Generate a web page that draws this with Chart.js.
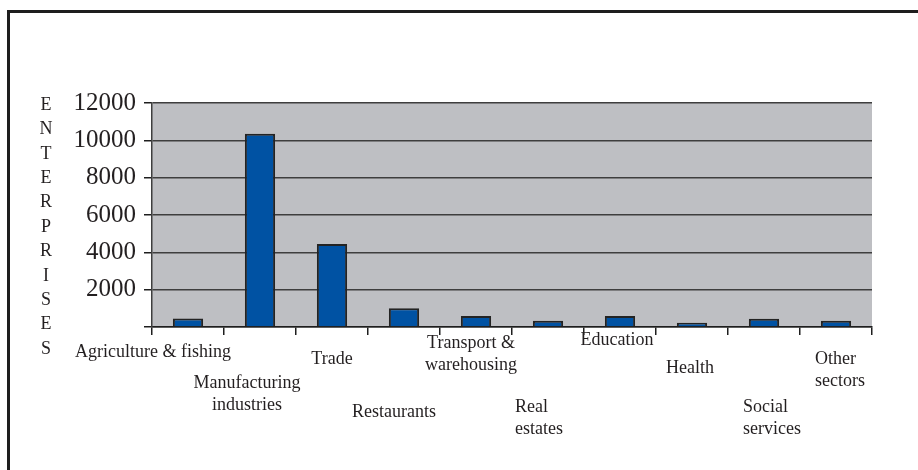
<!DOCTYPE html>
<html lang="en">
<head>
<meta charset="UTF-8">
<title>Enterprises by sector</title>
<script src="https://cdn.jsdelivr.net/npm/chart.js"></script>
<style>
    html, body { margin: 0; padding: 0; background: #fff; }
    canvas { display: block; }
</style>
</head>
<body>
<canvas id="chart" width="918" height="470"></canvas>
<script>
// data
const sectors = [
    ['Agriculture & fishing'],
    ['Manufacturing', 'industries'],
    ['Trade'],
    ['Restaurants'],
    ['Transport &', 'warehousing'],
    ['Real', 'estates'],
    ['Education'],
    ['Health'],
    ['Social', 'services'],
    ['Other', 'sectors']
];
const enterprises = [450, 10350, 4450, 1000, 590, 340, 590, 230, 445, 340];
const yTitle = 'ENTERPRISES';
const yMax = 12000;
const yStep = 2000;

const serif = '"Liberation Serif", "DejaVu Serif", serif';
const ink = '#231f20';

// staggered label placement, like the original (offset from category centre, first line y, alignment)
const labelLayout = [
    { dx: -35, y: 352, align: 'center' },
    { dx: -13, y: 383, align: 'center' },
    { dx: 0,   y: 359, align: 'center' },
    { dx: -10, y: 412, align: 'center' },
    { dx: -5,  y: 343, align: 'center' },
    { dx: -33, y: 407, align: 'left' },
    { dx: -3,  y: 340, align: 'center' },
    { dx: -2,  y: 368, align: 'center' },
    { dx: -21, y: 407, align: 'left' },
    { dx: -21, y: 359, align: 'left' }
];

const decor = {
    id: 'decor',
    beforeDraw(chart) {
        const { ctx, chartArea: a } = chart;
        ctx.save();
        ctx.fillStyle = '#fff';
        ctx.fillRect(0, 0, chart.width, chart.height);
        // frame (only top and left edges are in the picture)
        ctx.fillStyle = '#1e1e1e';
        ctx.fillRect(7, 10, chart.width - 7, 3);
        ctx.fillRect(7, 10, 3, chart.height - 10);
        // plot background
        ctx.fillStyle = '#bebfc3';
        ctx.fillRect(a.left, a.top, a.right - a.left, a.bottom - a.top);
        ctx.restore();
    },
    afterDraw(chart) {
        const { ctx } = chart;
        const x = chart.scales.x;
        ctx.save();
        ctx.fillStyle = ink;
        ctx.textBaseline = 'middle';
        ctx.font = '18px ' + serif;
        sectors.forEach((lines, i) => {
            const l = labelLayout[i];
            ctx.textAlign = l.align;
            const px = x.getPixelForValue(i) + l.dx;
            lines.forEach((t, k) => ctx.fillText(t, px, l.y + k * 22));
        });
        // vertical axis title, one letter per line
        ctx.textAlign = 'center';
        ctx.font = '18px ' + serif;
        yTitle.split('').forEach((ch, k) => ctx.fillText(ch, 46, 105 + k * 24.4));
        ctx.restore();
    }
};

new Chart(document.getElementById('chart'), {
    type: 'bar',
    data: {
        labels: sectors.map(s => s.join(' ')),
        datasets: [{
            data: enterprises,
            backgroundColor: '#0052a3',
            borderColor: '#232323',
            borderWidth: 2,
            categoryPercentage: 1,
            barPercentage: 0.42
        }]
    },
    options: {
        responsive: false,
        animation: false,
        devicePixelRatio: 1,
        layout: { padding: { left: 0, right: 46, top: 103, bottom: 0 } },
        plugins: { legend: { display: false }, tooltip: { enabled: false } },
        scales: {
            x: {
                grid: { drawOnChartArea: false, drawTicks: true, tickLength: 8, color: '#1e1e1e', lineWidth: 1.5, offset: true },
                border: { color: '#1e1e1e', width: 1.5 },
                ticks: { display: false },
                afterFit: s => { s.height = 143; }
            },
            y: {
                min: 0,
                max: yMax,
                ticks: {
                    stepSize: yStep,
                    color: ink,
                    font: { family: serif, size: 25 },
                    padding: 8,
                    callback: v => v === 0 ? '' : v
                },
                grid: { color: '#3e3e3e', lineWidth: 1.5, tickLength: 8, tickColor: '#1e1e1e' },
                border: { color: '#3e3e3e', width: 1.5 },
                afterFit: s => { s.width = 152; }
            }
        }
    },
    plugins: [decor]
});
</script>
</body>
</html>
